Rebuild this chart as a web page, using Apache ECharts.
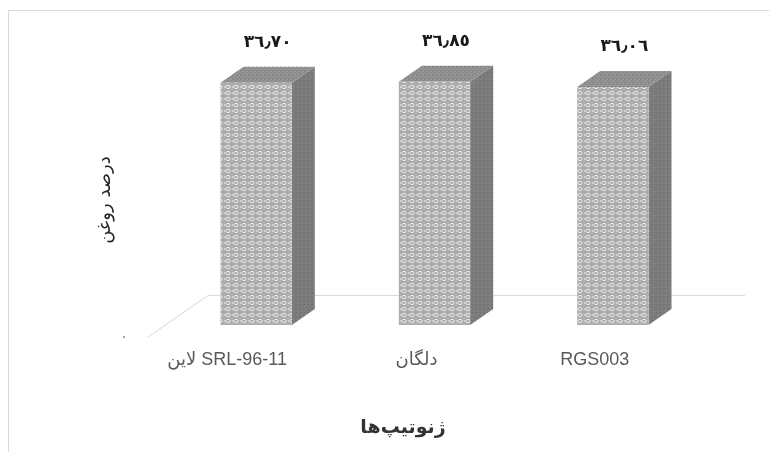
<!DOCTYPE html>
<html>
<head>
<meta charset="utf-8">
<script src="https://cdn.jsdelivr.net/npm/echarts@6/dist/echarts.min.js"></script>
<style>
  html, body { margin: 0; padding: 0; background: #ffffff; }
  #chart { width: 769px; height: 452px; }
</style>
</head>
<body>
<div id="chart"></div>
<script>
// Genotypes and their oil percentage
const categories = ['لاین SRL-96-11', 'دلگان', 'RGS003'];
const oilValues = [36.70, 36.85, 36.06];
const valueLabels = ['٣٦٫٧٠', '٣٦٫٨٥', '٣٦٫٠٦'];
const axisTitleX = 'ژنوتیپ‌ها';
const axisTitleY = 'درصد روغن';

// Small repeating textures for the three visible faces of each box
function makeTile(w, h, draw) {
  const c = document.createElement('canvas');
  c.width = w; c.height = h;
  draw(c.getContext('2d'));
  return { image: c, repeat: 'repeat' };
}
const frontFill = makeTile(8, 6, g => {
  g.fillStyle = '#adadad'; g.fillRect(0, 0, 8, 6);
  g.strokeStyle = '#e8e8e8'; g.lineWidth = 1;
  g.beginPath(); g.ellipse(4, 3, 2.2, 1.6, 0, 0, Math.PI * 2); g.stroke();
  g.fillStyle = '#d4d4d4'; g.fillRect(0, 2, 1, 2);
});
const sideFill = makeTile(4, 4, g => {
  g.fillStyle = '#7c7c7c'; g.fillRect(0, 0, 4, 4);
  g.fillStyle = '#6e6e6e'; g.fillRect(0, 0, 1, 1); g.fillRect(2, 2, 1, 1); g.fillRect(3, 0, 1, 1);
  g.fillStyle = '#8a8a8a'; g.fillRect(1, 3, 1, 1); g.fillRect(2, 1, 1, 1);
});
const topFill = makeTile(4, 4, g => {
  g.fillStyle = '#8e8e8e'; g.fillRect(0, 0, 4, 4);
  g.fillStyle = '#a5a5a5'; g.fillRect(1, 1, 1, 1); g.fillRect(3, 3, 1, 1);
  g.fillStyle = '#7e7e7e'; g.fillRect(0, 2, 1, 1);
});

const DEPTH_X = 23, DEPTH_Y = 16;

const labelFont = 'Liberation Sans, DejaVu Sans, sans-serif';

const chart = echarts.init(document.getElementById('chart'), null, { renderer: 'canvas' });

chart.setOption({
  animation: false,
  backgroundColor: '#ffffff',
  grid: { left: 167, width: 535, top: 61, bottom: 127 },
  xAxis: {
    type: 'category',
    data: categories.map((name, i) => ({
      value: name,
      textStyle: { padding: i === 0 ? [0, 58, 0, 0] : [0, 36, 0, 0] }
    })),
    axisLine: { show: false },
    axisTick: { show: false },
    axisLabel: {
      margin: 26,
      fontFamily: labelFont,
      fontSize: 18,
      color: '#595959',
      padding: [0, 36, 0, 0]
    }
  },
  yAxis: {
    type: 'value',
    min: 0,
    max: 40,
    show: false,
    splitLine: { show: false }
  },
  graphic: [
    // chart area frame
    { type: 'polyline', shape: { points: [[8.5, 452], [8.5, 10.5], [769, 10.5]] },
      style: { stroke: '#d9d9d9', lineWidth: 1, fill: null }, silent: true },
    // floor edges
    { type: 'polyline', shape: { points: [[148, 337], [208, 295.5], [745, 295.5]] },
      style: { stroke: '#d9d9d9', lineWidth: 1, fill: null }, silent: true, z: 0 },
    { type: 'circle', shape: { cx: 124, cy: 337, r: 1 },
      style: { fill: '#7f7f7f' }, silent: true },
    // axis titles
    { type: 'text', x: 105, y: 200, rotation: Math.PI / 2,
      style: { text: axisTitleY, fontFamily: 'DejaVu Sans, sans-serif', fontSize: 18,
               fill: '#262626', align: 'center', verticalAlign: 'middle' } },
    { type: 'text', x: 403, y: 428,
      style: { text: axisTitleX, fontFamily: 'DejaVu Sans, sans-serif', fontSize: 19,
               fontWeight: 'bold', fill: '#333333', align: 'center', verticalAlign: 'middle' } }
  ],
  series: [{
    type: 'custom',
    data: oilValues.map((v, i) => [i, v]),
    renderItem: function (params, api) {
      const i = api.value(0), v = api.value(1);
      const top = api.coord([i, v]);
      const base = api.coord([i, 0]);
      const w = api.size([1, 0])[0] * 0.4;
      const x0 = top[0] - w / 2, x1 = top[0] + w / 2;
      const yt = top[1], yb = base[1];
      return {
        type: 'group',
        children: [
          { type: 'polygon',
            shape: { points: [[x1, yt], [x1 + DEPTH_X, yt - DEPTH_Y], [x1 + DEPTH_X, yb - DEPTH_Y], [x1, yb]] },
            style: { fill: sideFill } },
          { type: 'polygon',
            shape: { points: [[x0, yt], [x0 + DEPTH_X, yt - DEPTH_Y], [x1 + DEPTH_X, yt - DEPTH_Y], [x1, yt]] },
            style: { fill: topFill } },
          { type: 'polygon',
            shape: { points: [[x0, yt], [x1, yt], [x1, yb], [x0, yb]] },
            style: { fill: frontFill } },
          { type: 'text', x: top[0] + DEPTH_X / 2, y: yt - 40,
            style: { text: valueLabels[params.dataIndex], fontFamily: 'DejaVu Sans, sans-serif',
                     fontSize: 17, fontWeight: 'bold', fill: '#1a1a1a',
                     align: 'center', verticalAlign: 'middle' } }
        ]
      };
    }
  }]
});
</script>
</body>
</html>
